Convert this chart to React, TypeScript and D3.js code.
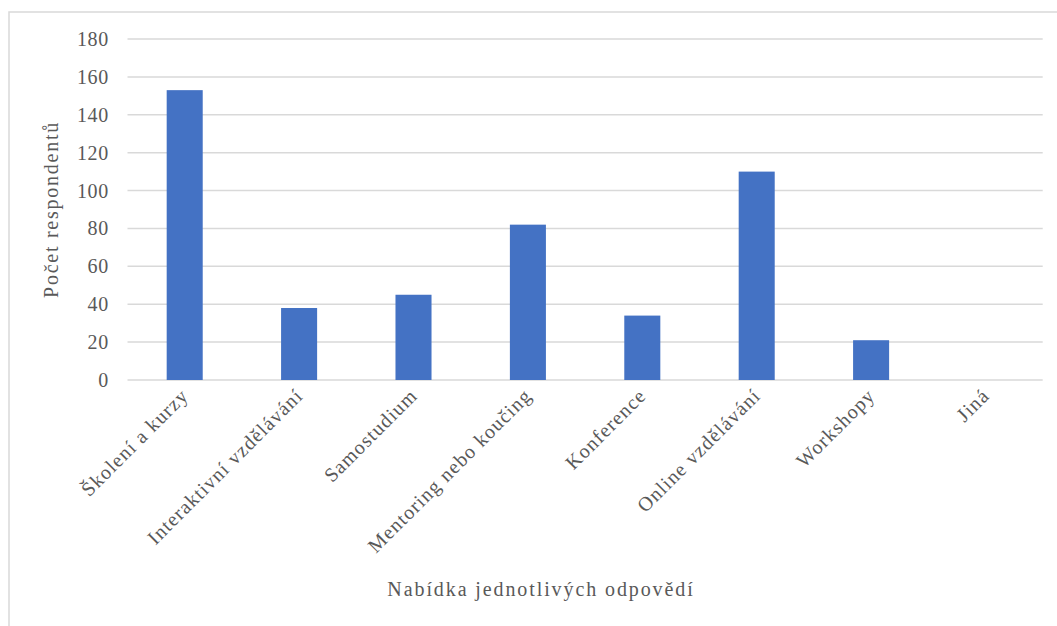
import React from "react";
import * as d3 from "d3";

const categories = [
  "Školení a kurzy",
  "Interaktivní vzdělávání",
  "Samostudium",
  "Mentoring nebo koučing",
  "Konference",
  "Online vzdělávání",
  "Workshopy",
  "Jiná",
];
const values = [153, 38, 45, 82, 34, 110, 21, 0];
const yTicks = [0, 20, 40, 60, 80, 100, 120, 140, 160, 180];

const W = 1057;
const H = 626;
const plot = { left: 127.5, right: 1042.7, top: 39, bottom: 380 };
const FONT = "Liberation Serif, DejaVu Serif, serif";
const TEXT = "#595959";

export default function App() {
  const x = d3
    .scaleBand<string>()
    .domain(categories)
    .range([plot.left, plot.right])
    .paddingInner(0.685)
    .paddingOuter(0.3425);
  const y = d3.scaleLinear().domain([0, 180]).range([plot.bottom, plot.top]);

  const txt = (size: number, spacing: number) => ({
    fontFamily: FONT,
    fontSize: size,
    fill: TEXT,
    letterSpacing: spacing,
  });

  return (
    <svg
      width={W}
      height={H}
      style={{ position: "absolute", left: 0, top: 0, background: "#fff" }}
    >
      <rect x={9} y={12} width={1100} height={700} fill="#fff" stroke="#d9d9d9" strokeWidth={1.5} />
      {yTicks.map((t) => (
        <g key={t}>
          <line
            x1={plot.left}
            x2={plot.right}
            y1={y(t)}
            y2={y(t)}
            stroke="#d9d9d9"
            strokeWidth={1.5}
          />
          <text x={109} y={y(t)} dy="0.35em" textAnchor="end" style={txt(20, 0.7)}>
            {t}
          </text>
        </g>
      ))}
      {categories.map((c, i) => (
        <rect
          key={c}
          x={x(c)}
          y={y(values[i])}
          width={x.bandwidth()}
          height={y(0) - y(values[i])}
          fill="#4472c4"
        />
      ))}
      {categories.map((c) => {
        const cx = (x(c) as number) + x.bandwidth() / 2 + 5;
        return (
          <text
            key={c}
            transform={`translate(${cx},${plot.bottom + 17}) rotate(-45)`}
            textAnchor="end"
            style={txt(20, 1.1)}
          >
            {c}
          </text>
        );
      })}
      <text
        transform={`translate(58,${(plot.top + plot.bottom) / 2}) rotate(-90)`}
        textAnchor="middle"
        style={txt(20, 1.75)}
      >
        Počet respondentů
      </text>
      <text x={541} y={596} textAnchor="middle" style={txt(20, 1.9)}>
        Nabídka jednotlivých odpovědí
      </text>
    </svg>
  );
}
